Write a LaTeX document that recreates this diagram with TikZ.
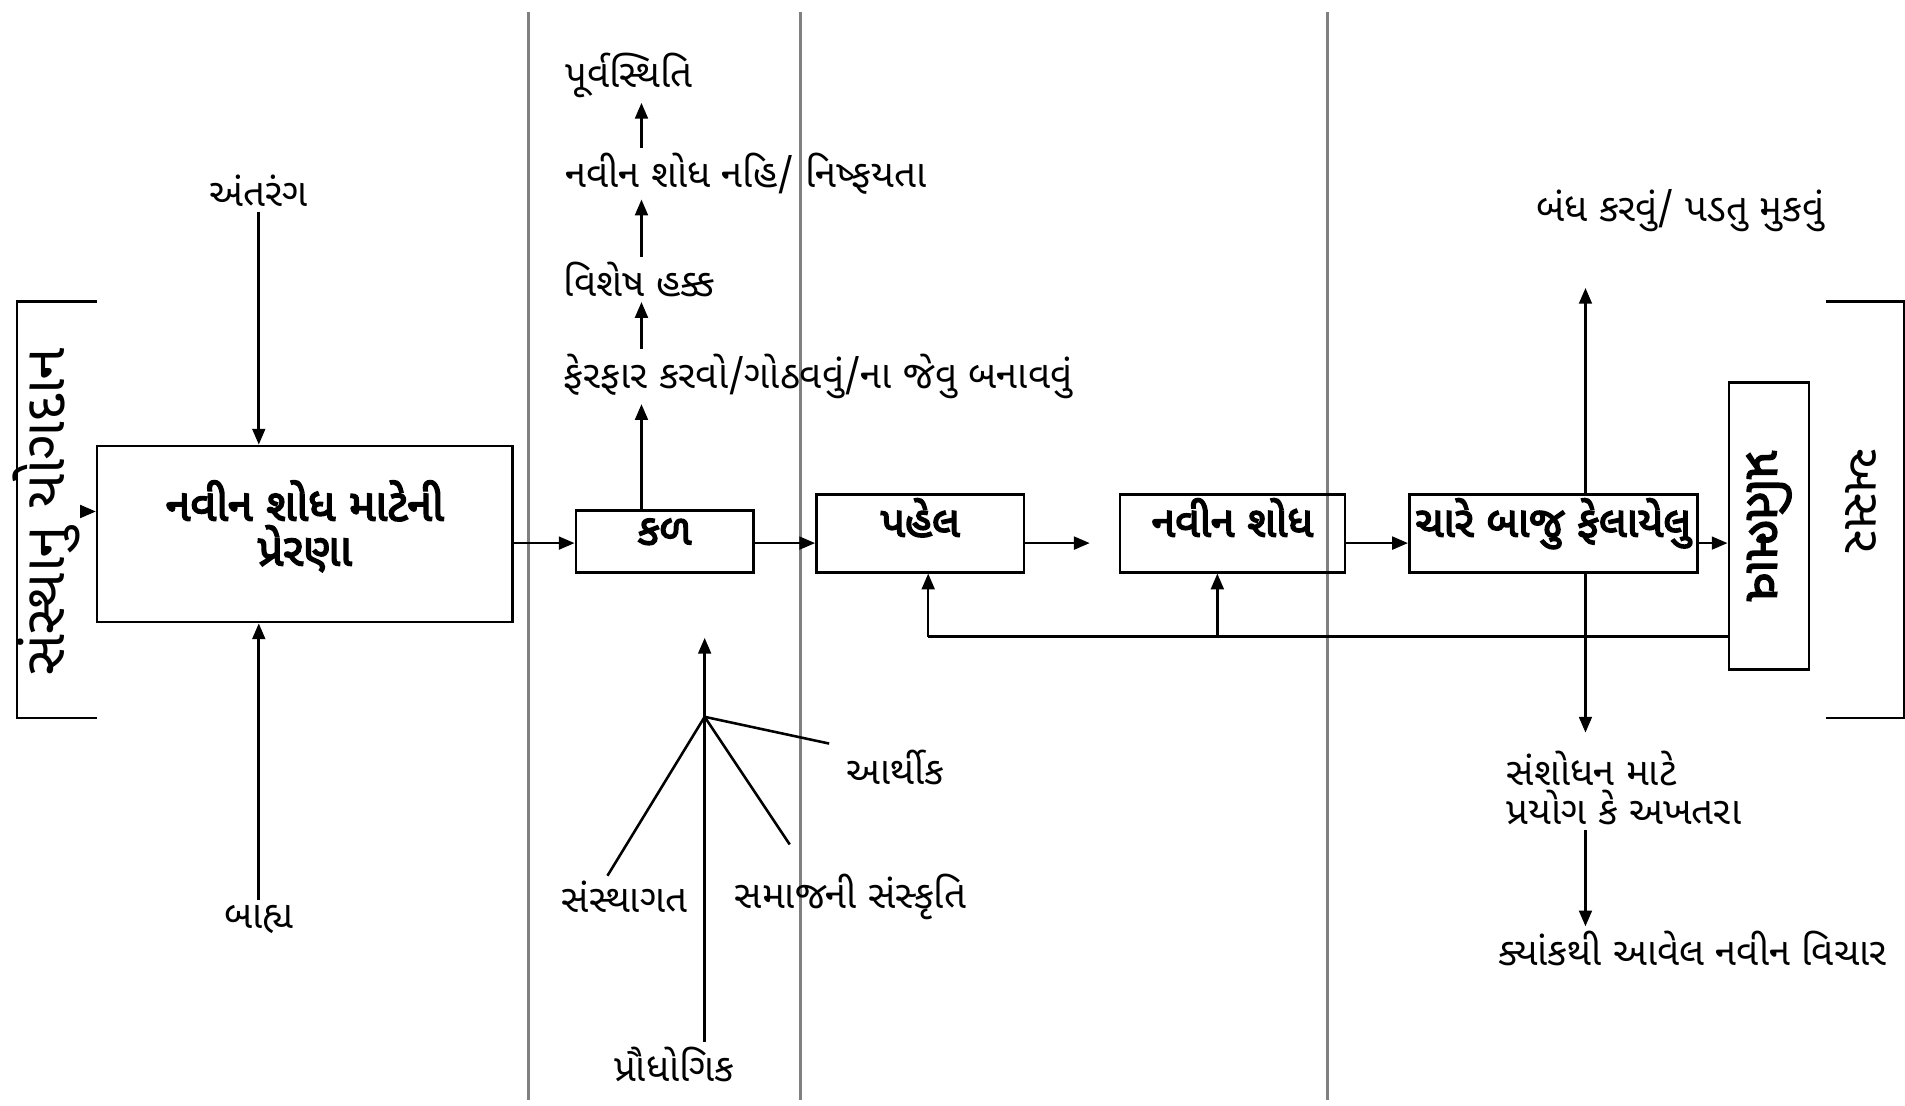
\documentclass[tikz,border=0pt]{standalone}
\usepackage{fontspec}
\usepackage{graphicx}
\setmainfont[Script=Gujarati]{Noto Sans Gujarati UI}
\newfontfamily\gujb[Script=Gujarati,FakeBold=3.5]{Noto Sans Gujarati UI}
\usetikzlibrary{arrows.meta}
\begin{document}
\begin{tikzpicture}[x=0.1mm,y=-0.1mm,
  ln/.style={line width=0.6pt,black},
  arr/.style={ln,-{Triangle[length=1.3mm,width=1.05mm]}},
  divider/.style={line width=0.7pt,gray},
  box/.style={draw,ln,inner sep=0pt,align=center,font=\gujb\fontsize{10}{10.5}\selectfont},
  lbl/.style={inner sep=1pt,font=\fontsize{9}{9.2}\selectfont},
  big/.style={inner sep=0pt,font=\fontsize{13.5}{16}\selectfont}]
\useasboundingbox (0,0) rectangle (1568,910);

% dividers
\draw[divider] (435,10) -- (435,905);
\draw[divider] (659,10) -- (659,905);
\draw[divider] (1093,10) -- (1093,905);

% helper coordinates
\coordinate (ymain) at (0,447);
\coordinate (xk) at (528,0);

% boxes
\node[box,font=\gujb\fontsize{10.5}{10.5}\selectfont,text depth=1.8mm,minimum width=34.2mm,minimum height=14.5mm] (prerana) at (251,439.5) {નવીન શોધ માટેની\\પ્રેરણા};
\node[box,text depth=1.6mm,minimum width=14.6mm,minimum height=5.1mm] (kal) at (547,445.5) {કળ};
\node[box,text depth=2.6mm,minimum width=17.1mm,minimum height=6.4mm] (pahel) at (757.5,439) {પહેલ};
\node[box,text depth=2.6mm,minimum width=18.5mm,minimum height=6.4mm] (navin) at (1014.5,439) {નવીન શોધ};
\node[box,text depth=2.6mm,minimum width=23.7mm,minimum height=6.4mm] (chare) at (1278.5,439) {ચારે બાજુ ફેલાયેલુ};
\node[box,font=\gujb\fontsize{11.5}{12}\selectfont,minimum width=6.6mm,minimum height=23.6mm] (prati) at (1456,433) {\rotatebox{-90}{પ્રતિભાવ}};

% left bracket
\draw[ln] (80,248) -- (14,248) -- (14,591) -- (80,591);
\node[big,rotate=90] (contrib) at (38,421) {સંસ્થાનુ યોગદાન};
\draw[arr] (contrib.south) -- (prerana.west |- contrib.south);

% right bracket
\draw[ln] (1503,248) -- (1567,248) -- (1567,591) -- (1503,591);
\node[big,font=\fontsize{12}{14}\selectfont,rotate=-90] (asar) at (1532,412) {અસર};

% inner / outer
\node[lbl] (antar) at (213,157) {અંતરંગ};
\node[lbl] (bahya) at (213,757) {બાહ્ય};
\draw[arr] (antar.south) -- (antar.south |- prerana.north);
\draw[arr] (bahya.north) -- (bahya.north |- prerana.south);

% chain above kal
\node[lbl,anchor=west] (ferfar) at (460,310) {ફેરફાર કરવો/ગોઠવવું/ના જેવુ બનાવવું};
\node[lbl,anchor=west] (vishesh) at (460,230) {વિશેષ હક્ક};
\node[lbl,anchor=west] (nahi) at (461,143) {નવીન શોધ નહિ/ નિષ્ફયતા};
\node[lbl,anchor=west] (purva) at (461,62) {પૂર્વસ્થિતિ};
\draw[arr] (kal.north -| xk) -- (ferfar.south -| xk);
\draw[arr] (ferfar.north -| xk) -- (vishesh.south -| xk);
\draw[arr] (vishesh.north -| xk) -- (nahi.south -| xk);
\draw[arr] (nahi.north -| xk) -- (purva.south -| xk);

% main flow
\draw[arr] (prerana.east |- ymain) -- (kal.west |- ymain);
\draw[arr] (kal.east |- ymain) -- (pahel.west |- ymain);
\coordinate (pend) at (897,447);
\draw[arr] (pahel.east |- ymain) -- (pend);
\draw[arr] (navin.east |- ymain) -- (chare.west |- ymain);
\draw[arr] (chare.east |- ymain) -- (prati.west |- ymain);

% feedback
\coordinate (fbp) at (764,524);
\coordinate (fbn) at (1002,524);
\draw[ln] (prati.west |- fbp) -- (fbp);
\draw[arr] (fbp) -- (pahel.south -| fbp);
\draw[arr] (fbn) -- (navin.south -| fbn);

% diffusion outcomes
\coordinate (up) at (1305,237);
\coordinate (down) at (1305,603);
\draw[arr] (chare.north -| up) -- (up);
\draw[arr] (chare.south -| up) -- (down);
\node[lbl] (bandh) at (1383,173) {બંધ કરવું/ પડતુ મુકવું};
\node[lbl,anchor=north west,align=left] (research) at (1236,614) {સંશોધન માટે\\પ્રયોગ કે અખતરા};
\node[lbl] (idea) at (1393,781) {ક્યાંકથી આવેલ નવીન વિચાર};
\draw[arr] (research.south -| up) -- (idea.north -| up);

% tree of factors
\node[lbl] (prau) at (555,876) {પ્રૌધોગિક};
\node[lbl] (sanstha) at (514,738) {સંસ્થાગત};
\node[lbl] (samaj) at (700,738) {સમાજની સંસ્કૃતિ};
\node[lbl] (arthik) at (737,632) {આર્થીક};
\coordinate (tb) at (580,590);
\coordinate (ttop) at (580,525);
\draw[arr] (prau.north -| tb) -- (ttop);
\draw[ln] (tb) -- ([xshift=-1.4mm]sanstha.north);
\draw[ln] (tb) -- ([xshift=-5mm,yshift=2mm]samaj.north);
\draw[ln] (tb) -- ([xshift=-1mm,yshift=2mm]arthik.west);
\end{tikzpicture}
\end{document}
